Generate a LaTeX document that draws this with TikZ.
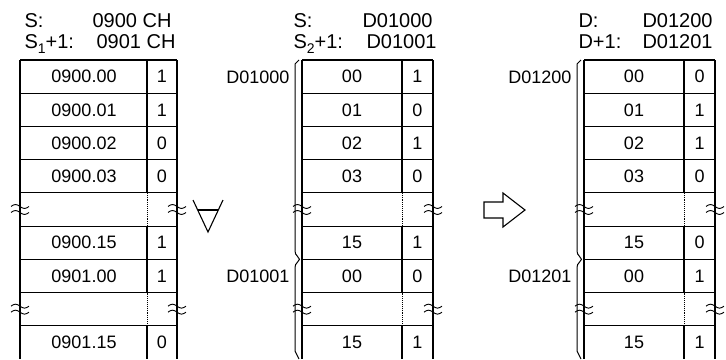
\documentclass[tikz,border=0pt]{standalone}
\usepackage{fontspec}
\setmainfont{Liberation Sans}
\newcommand\subsc[1]{\raisebox{-5pt}{\fontsize{14}{15}\selectfont #1}}
\begin{document}
\begin{tikzpicture}[x=1pt,y=-1pt,line width=1.1pt,
  hdr/.style={font=\fontsize{20}{22}\selectfont,anchor=base west,inner sep=0pt},
  cell/.style={font=\fontsize{18}{20}\selectfont,inner sep=0pt},
  lbl/.style={font=\fontsize{18}{20}\selectfont,anchor=east,inner sep=0pt},
  brk/.style={line width=0.9pt,densely dotted},
  wave/.style={line width=0.9pt},
  brace/.style={line width=1pt},
  approx/.pic={\draw[wave] (-9,-3) sin (-4.5,-5) cos (0,-3) sin (4.5,-1) cos (9,-3);
               \draw[wave] (-9,3) sin (-4.5,1) cos (0,3) sin (4.5,5) cos (9,3);}]
\useasboundingbox (0,0) rectangle (726,359);
\def\rh{33.22}
% ---------- generic table drawing ----------
\foreach \L/\D/\R/\n in {20/147/177/a,302/402/433/b,584/684/715/c}{
  \draw (\L,60) -- (\L,359);
  \draw (\R,60) -- (\R,359);
  \foreach \i in {0,...,8}{ \draw (\L,60+\i*\rh) -- (\R,60+\i*\rh); }
  \draw (\D,60) -- (\D,60+4*\rh);
  \draw[brk] (\D,60+4*\rh) -- (\D,60+5*\rh);
  \draw (\D,60+5*\rh) -- (\D,60+7*\rh);
  \draw[brk] (\D,60+7*\rh) -- (\D,60+8*\rh);
  \draw (\D,60+8*\rh) -- (\D,359);
  \foreach \i in {4,7}{
    \pic at (\L,60+\i*\rh+0.5*\rh) {approx};
    \pic at (\R,60+\i*\rh+0.5*\rh) {approx};
  }
}
% ---------- table 1 ----------
\foreach \i/\t/\v in {0/0900.00/1,1/0900.01/1,2/0900.02/0,3/0900.03/0,5/0900.15/1,6/0901.00/1,8/0901.15/0}{
  \node[cell] (a\i) at (84,60+\i*\rh+0.5*\rh) {\t};
  \node[cell] (av\i) at (162,60+\i*\rh+0.5*\rh) {\v};
}
% ---------- table 2 ----------
\foreach \i/\t/\v in {0/00/1,1/01/0,2/02/1,3/03/0,5/15/1,6/00/0,8/15/1}{
  \node[cell] (b\i) at (352,60+\i*\rh+0.5*\rh) {\t};
  \node[cell] (bv\i) at (417.5,60+\i*\rh+0.5*\rh) {\v};
}
% ---------- table 3 ----------
\foreach \i/\t/\v in {0/00/0,1/01/1,2/02/1,3/03/0,5/15/0,6/00/1,8/15/1}{
  \node[cell] (c\i) at (634,60+\i*\rh+0.5*\rh) {\t};
  \node[cell] (cv\i) at (699.5,60+\i*\rh+0.5*\rh) {\v};
}
% ---------- headers ----------
\node[hdr] (h1a) at (24,27) {S:};
\node[hdr] (h1b) at (92,27) {0900 CH};
\node[hdr] (h1c) at (24,48.5) {S\subsc{1}+1:};
\node[hdr] (h1d) at (96,48.5) {0901 CH};
\node[hdr] (h2a) at (293,27) {S:};
\node[hdr] (h2b) at (362,27) {D01000};
\node[hdr] (h2c) at (293,48.5) {S\subsc{2}+1:};
\node[hdr] (h2d) at (366,48.5) {D01001};
\node[hdr] (h3a) at (578,27) {D:};
\node[hdr] (h3b) at (642,27) {D01200};
\node[hdr] (h3c) at (578,48.5) {D+1:};
\node[hdr] (h3d) at (642,48.5) {D01201};
% ---------- word labels ----------
\node[lbl] (l1) at (290,77) {D01000};
\node[lbl] (l2) at (290,276.5) {D01001};
\node[lbl] (l3) at (572,77) {D01200};
\node[lbl] (l4) at (572,276.5) {D01201};
% ---------- brackets ----------
\foreach \x in {295,577}{
  \draw[brace] (\x+4,60) -- (\x,64) -- (\x,251)
     .. controls (\x,256) and (\x+4,256) .. (\x+4.5,259.3)
     .. controls (\x+4,262.5) and (\x,262.5) .. (\x,267.5)
     -- (\x,351) -- (\x+4,359);
}
% ---------- XOR symbol ----------
\draw[line width=1.1pt] (193,200) -- (208,232) -- (223,200);
\draw[line width=1.1pt] (198,210) -- (218,210);
% ---------- hollow arrow ----------
\draw[line width=1.1pt,line join=miter] (484,202) -- (503,202) -- (503,193) -- (525,210)
   -- (503,227) -- (503,218) -- (484,218) -- cycle;
\end{tikzpicture}
\end{document}
